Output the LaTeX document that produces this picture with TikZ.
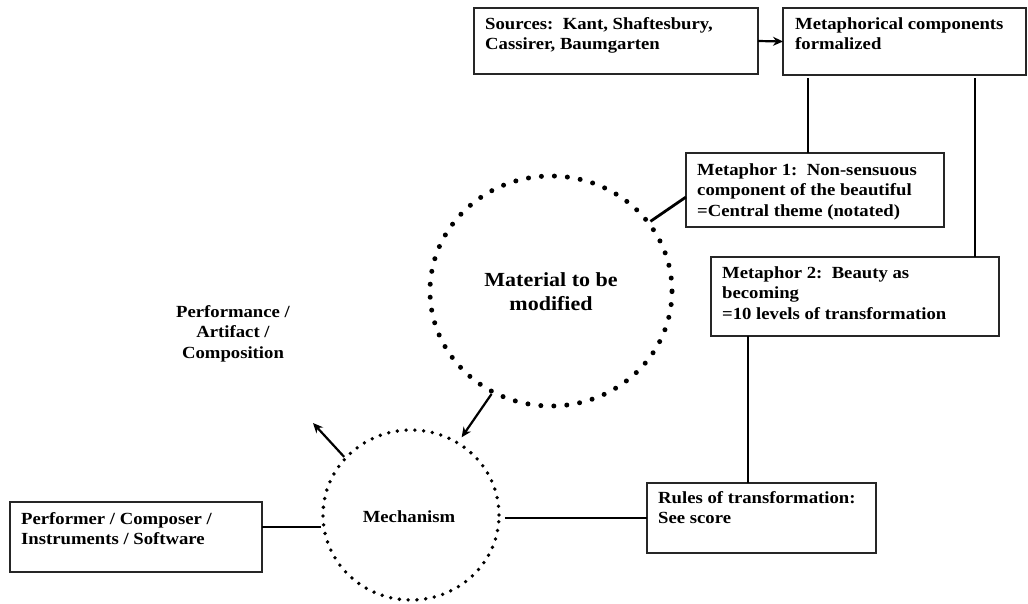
\documentclass[tikz,border=0pt]{standalone}
\usepackage{fontspec}
\setmainfont{Liberation Serif}[FakeStretch=1.1]
\usetikzlibrary{arrows.meta,shapes.geometric}
\begin{document}
\begin{tikzpicture}[x=1pt,y=-1pt,
  box/.style={draw=black!85, line width=1.1pt, rectangle, anchor=north west,
    inner sep=0pt, outer sep=0pt},
  txt/.style={font=\bfseries\fontsize{17}{20.5}\selectfont, inner sep=0pt, anchor=base west},
  ctxt/.style={font=\bfseries\fontsize{17}{20.5}\selectfont, inner sep=0pt, anchor=base},
  link/.style={line width=2.8pt, black},
  flow/.style={line width=2.2pt, black, -{Stealth[length=10pt,width=9pt]}},
  bigdots/.style={ellipse, draw, line width=5pt, line cap=round,
    dash pattern=on 0pt off 13pt, inner sep=0pt},
  smalldots/.style={ellipse, draw, line width=3.8pt, line cap=round,
    dash pattern=on 0pt off 8.8pt, inner sep=0pt}
]
\useasboundingbox (0,0) rectangle (1028,603);

% rectangular boxes
\node[box, minimum width=284, minimum height=66] (src)   at (474,8)   {};
\node[box, minimum width=243, minimum height=67] (meta)  at (783,8)   {};
\node[box, minimum width=258, minimum height=74] (m1)    at (686,153) {};
\node[box, minimum width=288, minimum height=79] (m2)    at (711,257) {};
\node[box, minimum width=229, minimum height=70] (rules) at (647,483) {};
\node[box, minimum width=252, minimum height=70] (perf)  at (10,502)  {};

% box texts
\node[txt] (srcT) at (485,29)
  {\parbox[t]{270pt}{\raggedright Sources:\ \ Kant, Shaftesbury,\\Cassirer, Baumgarten}};
\node[txt] (metaT) at (795,29)
  {\parbox[t]{230pt}{\raggedright Metaphorical components\\formalized}};
\node[txt] (m1T) at (697,175)
  {\parbox[t]{245pt}{\raggedright Metaphor 1:\ \ Non-sensuous\\component of the beautiful\\=Central theme (notated)}};
\node[txt] (m2T) at (722,278)
  {\parbox[t]{275pt}{\raggedright Metaphor 2:\ \ Beauty as\\becoming\\=10 levels of transformation}};
\node[txt] (rulesT) at (658,503)
  {\parbox[t]{215pt}{\raggedright Rules of transformation:\\See score}};
\node[txt] (perfT) at (21,524)
  {\parbox[t]{235pt}{\raggedright Performer / Composer /\\Instruments / Software}};

% dotted circles
\node[bigdots, minimum width=242, minimum height=230] (mat) at (551,291) {};
\node[ctxt, font=\bfseries\fontsize{20}{24.5}\selectfont] (matT) at (551,286)
  {\parbox[t]{170pt}{\centering Material to be\\modified}};
\node[smalldots, minimum width=176, minimum height=170] (mech) at (411,515) {};
\node[ctxt] (mechT) at (409,522) {Mechanism};

% outcome label
\node[ctxt] (outT) at (233,317)
  {\parbox[t]{140pt}{\centering Performance /\\Artifact /\\Composition}};
\coordinate (out) at (313,423);

% helper columns for the vertical links
\coordinate (colA) at (808,0);
\coordinate (colB) at (975,0);
\coordinate (colC) at (748,0);

% connectors
\draw[flow] (src.east) -- (meta.west);
\draw[link, shorten <=3pt] (colA |- meta.south) -- (colA |- m1.north);
\draw[link, shorten <=3pt] (colB |- meta.south) -- (colB |- m2.north);
\draw[link] (colC |- m2.south) -- (colC |- rules.north);
\draw[link] ([yshift=-7pt]m1.west) -- (mat.35);
\draw[flow, shorten >=5pt] (mat.240) -- (mech.57);
\draw[flow] (mech.139) -- (out);
\draw[link] ([yshift=10pt]perf.east) -- ([yshift=10pt]perf.east -| mech.west);
\draw[link] ([xshift=4pt]rules.west -| mech.east) -- (rules.west);
\end{tikzpicture}
\end{document}
